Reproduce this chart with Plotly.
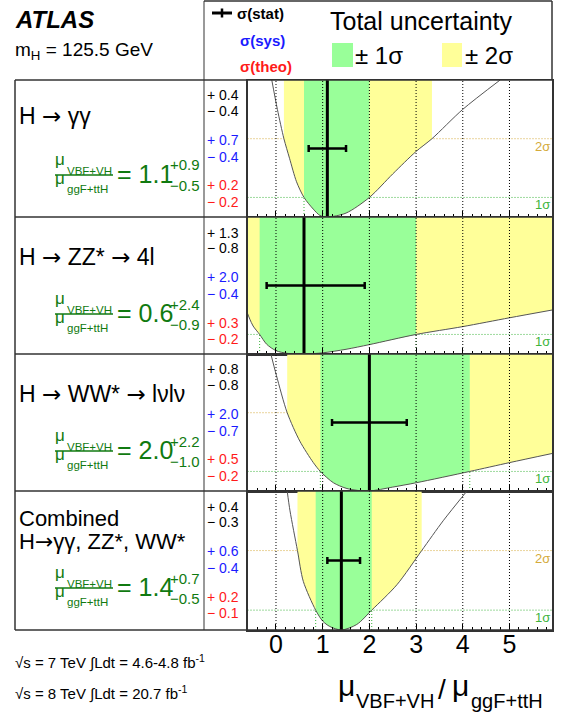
import numpy as np
import plotly.graph_objects as go

# ---------------- data ----------------
ARROW = "<span style='font-family:DejaVu Sans'>→</span>"
channel_lines = [["H " + ARROW + " γγ"], ["H " + ARROW + " ZZ* " + ARROW + " 4l"],
                 ["H " + ARROW + " WW* " + ARROW + " lνlν"], ["Combined", "H" + ARROW + "γγ, ZZ*, WW*"]]
best_fit = [1.1, 0.6, 2.0, 1.4]
tot_up = [0.9, 2.4, 2.2, 0.7]
tot_dn = [0.5, 0.9, 1.0, 0.5]
stat_up = [0.4, 1.3, 0.8, 0.4]
stat_dn = [0.4, 0.8, 0.8, 0.3]
sys_up = [0.7, 2.0, 2.0, 0.6]
sys_dn = [0.4, 0.4, 0.7, 0.4]
theo_up = [0.2, 0.3, 0.5, 0.2]
theo_dn = [0.2, 0.2, 0.2, 0.1]

# 1 sigma / 2 sigma intervals (band edges) read from the shading
sig1_lo = [0.60, -0.35, 0.95, 0.85]
sig1_hi = [2.00, 3.00, 4.15, 2.05]
sig2_lo = [0.17, -1.00, 0.24, 0.46]
sig2_hi = [3.34, 7.00, 7.00, 3.12]

# -2 ln(Lambda) curves
curve_x = [
    [-0.09, 0.03, 0.17, 0.29, 0.44, 0.60, 0.80, 0.94, 1.10, 1.50, 2.00, 2.50, 3.00, 3.34, 4.00, 4.80],
    [-0.63, -0.56, -0.49, -0.35, -0.20, 0.00, 0.25, 0.60, 1.00, 1.50, 2.00, 3.00, 4.00, 5.00, 5.92],
    [-0.11, 0.01, 0.24, 0.51, 0.80, 0.95, 1.23, 1.50, 1.75, 2.00, 2.50, 3.00, 4.15, 5.00, 5.92],
    [0.24, 0.30, 0.46, 0.585, 0.85, 1.00, 1.15, 1.40, 1.73, 2.05, 2.59, 3.12, 3.58, 4.09],
]
curve_y = [
    [7.0, 5.5, 4.0, 3.0, 1.8, 1.0, 0.40, 0.08, 0.0, 0.2, 1.0, 2.2, 3.35, 4.0, 5.5, 7.0],
    [2.2, 1.78, 1.43, 1.0, 0.5, 0.17, 0.03, 0.0, 0.06, 0.24, 0.48, 1.0, 1.4, 1.85, 2.25],
    [7.0, 5.9, 4.0, 2.55, 1.45, 1.0, 0.42, 0.14, 0.03, 0.0, 0.2, 0.42, 1.0, 1.45, 1.92],
    [7.0, 6.0, 4.0, 2.45, 1.0, 0.45, 0.18, 0.0, 0.28, 1.0, 2.28, 4.0, 5.5, 7.0],
]

tick_vals = [0, 1, 2, 3, 4, 5]
tick_text = ["0", "1", "2", "3", "4", "5"]

# ---------------- layout helpers ----------------
W, H = 562, 720
def PX(x): return x / W
def PY(y): return 1 - y / H

FONT = "Liberation Sans, Arial, Helvetica, sans-serif"
GREEN_FILL = "#99ff99"
YELLOW_FILL = "#ffff99"
TXT_GREEN = "#107a10"
BLUE = "#1a1aff"
RED = "#ff1a1a"
SIG1_COL = "#3cb43c"
SIG2_COL = "#d4aa3a"
FRAME = "#333333"

panel_top = [80, 217, 354, 491]
panel_bot = [217, 354, 491, 630]
X0_PX, X1_PX = 247.5, 552.3
XRANGE = [-0.61, 5.917]
YTOP = 7.0

fig = go.Figure()
shapes = []
annotations = []

def txt(x, y, text, size, color="black", anchor="left", yanchor="middle"):
    annotations.append(dict(x=PX(x), y=PY(y), xref="paper", yref="paper", xanchor=anchor,
                            yanchor=yanchor, text=text, showarrow=False, borderpad=0, borderwidth=0,
                            font=dict(family=FONT, size=size, color=color)))

def pline(x0, y0, x1, y1, color=FRAME, width=1.5):
    shapes.append(dict(type="line", xref="paper", yref="paper", x0=PX(x0), y0=PY(y0), x1=PX(x1), y1=PY(y1),
                       line=dict(color=color, width=width), layer="above"))

axes = {}
for i in range(4):
    sfx = "" if i == 0 else str(i + 1)
    xa, ya = "x" + sfx, "y" + sfx
    cx = np.array(curve_x[i], dtype=float)
    cy = np.array(curve_y[i], dtype=float)

    # bands: region above the likelihood curve inside the sigma intervals
    for lo, hi, col in [(sig2_lo[i], sig2_hi[i], YELLOW_FILL), (sig1_lo[i], sig1_hi[i], GREEN_FILL)]:
        a, b = max(lo, cx[0]), min(hi, cx[-1])
        m = (cx > a) & (cx < b)
        bx = [a] + list(cx[m]) + [b]
        by = [float(np.interp(a, cx, cy))] + list(cy[m]) + [float(np.interp(b, cx, cy))]
        fig.add_trace(go.Scatter(x=[a, b], y=[YTOP + 1, YTOP + 1], mode="lines", line=dict(width=0),
                                 xaxis=xa, yaxis=ya, hoverinfo="skip", showlegend=False))
        fig.add_trace(go.Scatter(x=bx, y=by, mode="lines", line=dict(width=0, shape="spline", smoothing=0.8),
                                 fill="tonexty", fillcolor=col, xaxis=xa, yaxis=ya,
                                 hoverinfo="skip", showlegend=False))

    # likelihood curve
    fig.add_trace(go.Scatter(x=cx, y=cy, mode="lines", line=dict(color="#555555", width=1, shape="spline", smoothing=0.8),
                             xaxis=xa, yaxis=ya, hoverinfo="skip", showlegend=False))
    # best fit
    fig.add_trace(go.Scatter(x=[best_fit[i], best_fit[i]], y=[0, YTOP], mode="lines",
                             line=dict(color="black", width=3), xaxis=xa, yaxis=ya,
                             hoverinfo="skip", showlegend=False))
    # stat error
    fig.add_trace(go.Scatter(x=[best_fit[i]], y=[YTOP / 2], mode="markers", marker=dict(size=1, color="black"),
                             error_x=dict(type="data", symmetric=False, array=[stat_up[i]], arrayminus=[stat_dn[i]],
                                          color="black", thickness=2.5, width=3.5),
                             xaxis=xa, yaxis=ya, hoverinfo="skip", showlegend=False))

    # sigma level lines (under the bands)
    for lvl, col in [(1, SIG1_COL), (4, SIG2_COL)]:
        shapes.append(dict(type="line", xref=xa + " domain", x0=0, x1=1, yref=ya, y0=lvl, y1=lvl,
                           line=dict(color=col, width=1, dash="1px,2px"), layer="below"))
    for v in (sig1_lo[i], sig1_hi[i]):
        if XRANGE[0] < v < XRANGE[1]:
            shapes.append(dict(type="line", xref=xa, x0=v, x1=v, yref=ya, y0=0, y1=1,
                               line=dict(color=SIG1_COL, width=1, dash="1px,2px"), layer="below"))
    # integer dotted grid (above bands)
    for v in tick_vals:
        shapes.append(dict(type="line", xref=xa, x0=v, x1=v, yref=ya + " domain", y0=0, y1=1,
                           line=dict(color="black", width=1, dash="1px,2px"), layer="above"))

    annotations.append(dict(x=PX(550), y=1, xref="paper", yref=ya, xanchor="right", yanchor="top",
                            text="1σ", showarrow=False, borderpad=0, borderwidth=0,
                            font=dict(family=FONT, size=13, color=SIG1_COL)))
    if sig2_hi[i] < XRANGE[1]:
        annotations.append(dict(x=PX(550), y=4, xref="paper", yref=ya, xanchor="right", yanchor="top",
                                text="2σ", showarrow=False, borderpad=0, borderwidth=0,
                                font=dict(family=FONT, size=13, color=SIG2_COL)))

    axes["xaxis" + sfx] = dict(domain=[PX(X0_PX), PX(X1_PX)], range=XRANGE, anchor=ya,
                               showgrid=False, zeroline=False, showline=True, mirror=True,
                               linecolor=FRAME, linewidth=1.5, ticks="inside", ticklen=6, tickwidth=1,
                               tickcolor="black", tickmode="array", tickvals=tick_vals, ticktext=tick_text,
                               showticklabels=(i == 3), tickfont=dict(family=FONT, size=25, color="black"),
                               ticklabelstandoff=-9,
                               minor=dict(ticks="inside", ticklen=3, tickmode="linear", tick0=0, dtick=0.2,
                                          tickcolor="black", tickwidth=1),
                               fixedrange=True)
    axes["yaxis" + sfx] = dict(domain=[PY(panel_bot[i]), PY(panel_top[i])], range=[0, YTOP], anchor=xa,
                               showgrid=False, zeroline=False, showline=True, mirror=True,
                               linecolor=FRAME, linewidth=1.5, showticklabels=False, ticks="",
                               fixedrange=True)

    # ---- left text box ----
    top = panel_top[i]
    title_y = [[116], [257], [394], [518, 541]][i]
    for line, yy in zip(channel_lines[i], title_y):
        txt(19, yy, line, 23 if i < 3 else 22)
    B = [175, 314, 451, 588][i]
    txt(55, B - 15.5, "μ", 17, TXT_GREEN)
    txt(67, B - 4, "VBF+VH", 11.5, TXT_GREEN)
    pline(55, B, 113, B, TXT_GREEN, 1.3)
    txt(55, B + 3.5, "μ", 17, TXT_GREEN)
    txt(67, B + 14, "ggF+ttH", 11.5, TXT_GREEN)
    txt(117, B - 1, "= %.1f" % best_fit[i], 25, TXT_GREEN)
    txt(170, B - 10, "+%.1f" % tot_up[i], 15, TXT_GREEN)
    txt(170, B + 10.5, "−%.1f" % tot_dn[i], 15, TXT_GREEN)

    # ---- uncertainty column ----
    rows = [("+ %.1f" % stat_up[i], "black"), ("− %.1f" % stat_dn[i], "black"),
            ("+ %.1f" % sys_up[i], BLUE), ("− %.1f" % sys_dn[i], BLUE),
            ("+ %.1f" % theo_up[i], RED), ("− %.1f" % theo_dn[i], RED)]
    for (t, c), off in zip(rows, [15.5, 31, 60, 76.5, 105.5, 121.5]):
        txt(207, top + off, t, 14, c)

# ---------------- frame lines ----------------
pline(204, 1, 204, 630, "#555555", 1.2)
pline(15, 80, 15, 630)
pline(204, 1, 552, 1)
pline(552, 1, 552, 80)
for yy in [80, 217, 354, 491, 630]:
    pline(15, yy, 552, yy)

# ---------------- header ----------------
txt(15, 19, "<b><i>ATLAS</i></b>", 24)
txt(15, 51, "m<sub>H</sub> = 125.5 GeV", 19)

# legend
pline(212, 13, 232, 13, "black", 3)
pline(222, 8.5, 222, 17.5, "black", 2.5)
txt(237, 13, "<b>σ(stat)</b>", 15)
txt(240, 40, "<b>σ(sys)</b>", 15, BLUE)
txt(240, 66, "<b>σ(theo)</b>", 15, RED)
txt(330, 21, "Total uncertainty", 25)
shapes.append(dict(type="rect", xref="paper", yref="paper", x0=PX(332), x1=PX(353), y0=PY(67), y1=PY(43),
                   fillcolor=GREEN_FILL, line=dict(width=0)))
txt(355, 56, "± 1σ", 24)
shapes.append(dict(type="rect", xref="paper", yref="paper", x0=PX(442), x1=PX(462), y0=PY(67), y1=PY(43),
                   fillcolor=YELLOW_FILL, line=dict(width=0)))
txt(465, 56, "± 2σ", 24)

# ---------------- x axis title ----------------
txt(338, 685, "μ", 30)
txt(356, 701, "VBF+VH", 20)
txt(438, 689, "/", 28)
txt(452, 685, "μ", 30)
txt(471, 701, "ggF+ttH", 20)

# ---------------- bottom-left info ----------------
txt(15, 662, "√s = 7 TeV ∫Ldt = 4.6-4.8 fb<sup>-1</sup>", 15)
txt(15, 693, "√s = 8 TeV ∫Ldt = 20.7 fb<sup>-1</sup>", 15)

fig.update_layout(width=W, height=H, margin=dict(l=0, r=0, t=0, b=0), autosize=False,
                  paper_bgcolor="white", plot_bgcolor="white", showlegend=False,
                  font=dict(family=FONT), shapes=shapes, annotations=annotations, **axes)

fig.write_html("out.html", config={"displayModeBar": False, "staticPlot": True},
               post_script="document.body.style.margin='0';")
